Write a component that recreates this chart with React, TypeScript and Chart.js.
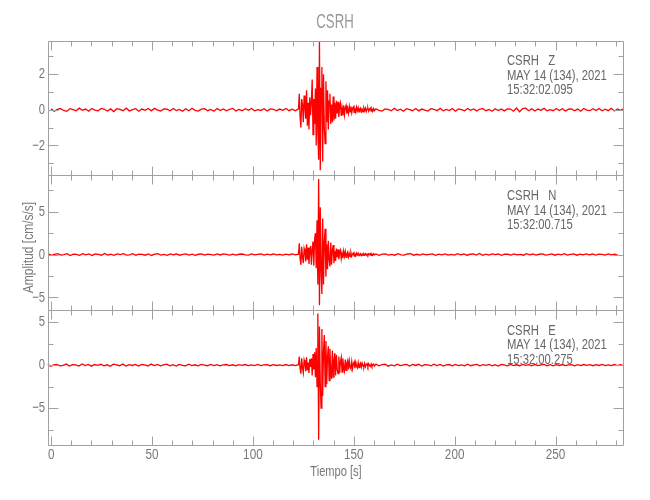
import React, { useEffect, useRef } from "react";
import { Chart, registerables } from "chart.js";

Chart.register(...registerables);

// ---- axis ranges / tick labels ----
const X_MIN = -1.8;
const X_MAX = 283.7;
const xMajorTicks = [0, 50, 100, 150, 200, 250];
const xMinorTicks = [10, 20, 30, 40, 60, 70, 80, 90, 110, 120, 130, 140, 160, 170, 180, 190, 210, 220, 230, 240, 260, 270, 280];

const zRange = [-3.68, 3.89];
const nRange = [-6.48, 9.22];
const eRange = [-9.3, 6.4];
const zMajor = [-2, 0, 2];
const zMinor = [-3, -1, 1, 3];
const nMajor = [-5, 0, 5];
const nMinor = [-2.5, 2.5, 7.5];
const eMajor = [-5, 0, 5];
const eMinor = [-7.5, -2.5, 2.5];

const zLabel = ["CSRH   Z", "MAY 14 (134), 2021", "15:32:02.095"];
const nLabel = ["CSRH   N", "MAY 14 (134), 2021", "15:32:00.715"];
const eLabel = ["CSRH   E", "MAY 14 (134), 2021", "15:32:00.275"];

// ---- trace timing (s) ----
const zStart = 0;
const nStart = -1.4;
const eStart = -1.8;
const preEnd = 122.6;
const eventStart = 123.0;
const eventEnd = 160.2;
const postStart = 161.0;
const zEnd = 283.7;
const nEnd = 280.8;
const eEnd = 283.7;

// ---- Z component (cm/s/s) ----
const zPre = [0.05,-0.08,0.02,0.07,-0.04,-0.09,0.06,0.01,-0.06,0.09,-0.03,0.04,-0.08,0.07,-0.02,-0.06,0.08,0.03,-0.07,0.05,-0.1,0.06,0.02,-0.05,0.09,-0.07,0.01,0.06,-0.08,0.04,-0.03,0.07,-0.06,0.08,-0.02,-0.07,0.05,0.03,-0.06,0.07,-0.04,0.02,-0.08,0.06,-0.05,0.09,-0.03,-0.07,0.04,0.06,-0.05,0.02,-0.08,0.07,-0.04,0.05,-0.06,0.03,0.08,-0.07,0.02,-0.05,0.06,-0.03,0.07,-0.06,0.01,-0.04,0.06,-0.07,0.05,0.02,-0.06,0.04,-0.03,0.07,-0.05,0.03,-0.06,0.05];
const zEvent = [
  0.9,-0.4,-1.0,0.6,0.3,
  -0.7,0.8,0.2,-0.5,1.1,-0.9,0.4,-1.1,0.7,-0.3,
  0.5,1.7,-1.4,0.6,-0.8,
  1.2,-2.0,2.4,-1.2,-2.8,
  3.8,-3.4,1.2,2.4,-2.9,2.0,-1.0,-1.9,1.6,-0.7,
  1.1,-1.1,0.5,0.9,-0.8,0.3,-0.7,0.75,-0.6,0.4,
  -0.5,0.5,-0.2,0.45,-0.4,0.2,0.38,-0.35,0.1,-0.32,
  0.25,-0.28,0.1,0.24,-0.22,0.05,-0.2,0.19,-0.12,0.2,
  -0.16,0.08,0.15,-0.14,0.04,-0.13,0.15,-0.05,0.12,-0.12,
  0.06,0.11,-0.1,0.03,-0.11,0.1,-0.04,0.09,-0.1,0.05,
  0.1,-0.08,0.02,0.09,-0.08,0.04,-0.09,0.07,-0.05,
];
const zPost = [0.06,-0.03,-0.07,0.05,0.02,-0.06,0.08,-0.04,0.03,-0.08,0.06,0.01,-0.05,0.07,-0.06,0.04,-0.02,-0.07,0.06,0.03,-0.05,0.08,-0.06,0.02,-0.04,0.07,-0.08,0.05,0.01,-0.06,0.07,-0.03,0.05,-0.07,0.04,0.06,-0.05,0.02,-0.08,0.06,-0.04,0.05,-0.06,0.05,0.04,-0.08,0.1,-0.11,0.07,0.09,-0.05,0.06,-0.07,0.04,-0.03,0.08,-0.06,0.01,-0.05,0.07,-0.04,0.06,-0.07,0.03,0.05,-0.06,0.04,-0.08,0.07,-0.02,-0.05,0.06,-0.04,0.07,-0.06,0.03,-0.05,0.08,-0.07,0.05,-0.03,0.06];

// ---- N component ----
const nPre = [0.08,-0.1,0.03,0.11,-0.07,-0.02,0.09,-0.12,0.05,0.02,-0.09,0.1,-0.04,0.07,-0.11,0.06,0.01,-0.08,0.12,-0.06,0.03,-0.1,0.08,-0.02,0.09,-0.07,-0.03,0.1,-0.09,0.05,0.02,-0.08,0.07,-0.11,0.04,0.09,-0.06,0.01,-0.09,0.08,-0.04,0.06,-0.08,0.02,0.07,-0.06,0.05,-0.09,0.03,0.08,-0.07,0.04,-0.02,-0.08,0.06,-0.05,0.07,0.02,-0.06,0.05,-0.07,0.03,0.06,-0.04,-0.06,0.07,-0.05,0.02,0.06,-0.07,0.04,-0.03,0.06,-0.05,0.02,-0.06,0.05,-0.04,0.06,-0.05,0.03];
const nEvent = [
  1.3,-0.5,-1.2,0.9,-0.3,
  -1.0,0.7,0.3,-0.8,1.2,-0.6,0.8,-1.1,0.4,1.0,
  -1.2,0.6,1.5,-1.3,1.8,
  2.5,-1.6,4.0,-3.5,8.8,
  -5.9,5.5,-2.0,-4.6,4.2,-3.5,1.5,3.0,-2.6,1.2,
  -1.7,1.6,-0.6,-1.4,1.4,-1.2,0.5,1.1,-1.0,0.4,
  -0.75,0.7,-0.3,0.6,-0.55,0.2,0.5,-0.48,0.15,-0.42,
  0.4,-0.2,0.35,-0.33,0.1,0.3,-0.28,0.1,-0.25,0.22,
  -0.2,0.06,0.18,-0.17,0.05,-0.16,0.15,-0.06,0.14,-0.13,
  0.04,0.12,-0.12,0.05,-0.11,0.1,-0.03,0.1,-0.1,0.06,
  -0.09,0.09,-0.03,0.1,-0.09,0.05,-0.08,0.09,-0.04,
];
const nPost = [0.07,-0.09,0.04,0.08,-0.06,0.02,-0.08,0.09,-0.03,-0.07,0.06,0.1,-0.08,0.03,-0.06,0.08,-0.05,0.02,0.07,-0.09,0.05,-0.03,0.08,-0.07,0.01,-0.06,0.09,-0.04,0.06,-0.08,0.03,0.07,-0.06,0.12,-0.1,0.04,-0.07,0.08,-0.02,0.06,-0.09,0.05,0.03,-0.07,0.08,-0.05,0.02,-0.08,0.09,-0.04,0.06,-0.07,0.03,0.08,-0.06,-0.02,0.07,-0.08,0.05,-0.04,0.09,-0.07,0.02,0.06,-0.08,0.04,-0.05,0.07,-0.03,0.06,-0.07,0.05,0.02,-0.06,0.08,-0.05,0.04,-0.06];

// ---- E component ----
const ePre = [0.1,-0.12,0.04,0.09,-0.08,-0.03,0.12,-0.1,0.06,0.02,-0.11,0.13,-0.05,0.08,-0.12,0.07,-0.02,0.1,-0.09,0.04,-0.13,0.11,0.03,-0.07,0.12,-0.1,0.05,-0.04,0.09,-0.11,0.07,0.02,-0.1,0.12,-0.06,0.08,-0.09,0.03,0.11,-0.08,0.05,-0.1,0.09,-0.02,-0.07,0.1,-0.06,0.04,-0.09,0.08,0.01,-0.07,0.09,-0.05,0.06,-0.08,0.03,0.07,-0.06,0.04,-0.08,0.06,-0.02,0.07,-0.06,0.03,-0.05,0.08,-0.06,0.02,0.05,-0.07,0.06,-0.04,0.03,-0.06,0.07,-0.05,0.04,-0.06,0.05];
const eEvent = [
  1.0,-0.4,-1.0,0.8,-0.3,
  -0.9,0.6,0.2,-0.7,0.9,-0.6,0.3,-0.9,0.7,-0.2,
  0.8,-1.2,1.3,-0.5,1.5,
  -1.4,2.0,-2.5,6.0,-8.7,
  4.5,-2.0,-5.0,4.2,-3.6,1.5,3.5,-2.5,2.8,-2.2,
  1.0,2.2,-1.8,1.9,-0.8,-1.6,1.7,-1.4,0.6,1.4,
  -1.2,1.2,-0.5,-1.0,1.0,-0.9,0.4,0.9,-0.8,0.8,
  -0.3,-0.7,0.65,-0.6,0.25,0.55,-0.5,0.5,-0.2,-0.45,
  0.42,-0.4,0.15,0.38,-0.36,0.35,-0.1,-0.32,0.3,-0.28,
  0.1,0.27,-0.24,0.22,-0.08,-0.21,0.2,-0.19,0.06,0.18,
  -0.17,0.16,-0.05,-0.15,0.14,-0.13,0.05,0.12,-0.12,
];
const ePost = [0.11,-0.09,0.05,0.1,-0.12,0.03,-0.08,0.11,-0.06,0.02,0.09,-0.1,0.07,-0.04,0.1,-0.11,0.06,0.02,-0.09,0.1,-0.05,0.08,-0.1,0.03,0.07,-0.08,0.09,-0.06,0.02,-0.09,0.1,-0.07,0.04,0.08,-0.09,0.05,-0.03,0.09,-0.08,0.06,-0.1,0.07,0.02,-0.08,0.09,-0.06,0.04,-0.07,0.08,-0.03,0.06,-0.09,0.07,-0.05,0.02,0.08,-0.07,0.05,-0.08,0.06,-0.04,0.07,-0.06,0.03,0.06,-0.08,0.05,-0.06,0.07,-0.03,0.05,-0.07,0.06,-0.04,0.08,-0.06,0.03,-0.05,0.07,-0.06,0.04,-0.05];

// evenly spaced sample times across a segment
function segment(start: number, end: number, vals: number[]) {
  const n = vals.length;
  const dt = n > 1 ? (end - start) / (n - 1) : 0;
  return vals.map((v, i) => ({ x: start + i * dt, y: v }));
}
function trace(start: number, pre: number[], ev: number[], post: number[], end: number) {
  return [
    ...segment(start, preEnd, pre),
    ...segment(eventStart, eventEnd, ev),
    ...segment(postStart, end, post),
  ];
}

const FONT = '"Liberation Sans", Arial, sans-serif';
const AXIS = "#a0a0a0";

function text(
  ctx: CanvasRenderingContext2D,
  s: string,
  x: number,
  y: number,
  size: number,
  color: string,
  align: "left" | "center" | "right",
  sx: number,
  rotate = 0
) {
  ctx.save();
  ctx.font = `${size}px ${FONT}`;
  ctx.fillStyle = color;
  ctx.textBaseline = "middle";
  ctx.textAlign = "left";
  const w = ctx.measureText(s).width * sx;
  ctx.translate(x, y);
  if (rotate) ctx.rotate(rotate);
  const x0 = align === "center" ? -w / 2 : align === "right" ? -w : 0;
  ctx.translate(x0, 0);
  ctx.scale(sx, 1);
  ctx.fillText(s, 0, 0);
  ctx.restore();
}

const panels = [
  { id: "yZ", major: zMajor, minor: zMinor, label: zLabel },
  { id: "yN", major: nMajor, minor: nMinor, label: nLabel },
  { id: "yE", major: eMajor, minor: eMinor, label: eLabel },
];

const framePlugin = {
  id: "seisFrame",
  afterDraw(chart: any) {
    const ctx: CanvasRenderingContext2D = chart.ctx;
    const area = chart.chartArea;
    const xs = chart.scales.x;
    const L = Math.round(area.left) + 0.5;
    const R = Math.round(area.right) - 0.5;
    ctx.save();
    ctx.strokeStyle = AXIS;
    ctx.lineWidth = 1;
    panels.forEach((p, pi) => {
      const ys = chart.scales[p.id];
      const T = Math.round(ys.top) + 0.5;
      const B = Math.round(ys.bottom) + 0.5;
      ctx.beginPath();
      ctx.rect(L, T, R - L, B - T);
      ctx.stroke();
      ctx.beginPath();
      const xt = (v: number, len: number) => {
        const px = Math.round(xs.getPixelForValue(v)) + 0.5;
        ctx.moveTo(px, T);
        ctx.lineTo(px, T + len);
        ctx.moveTo(px, B);
        ctx.lineTo(px, B - len);
      };
      xMajorTicks.forEach((v) => xt(v, 9));
      xMinorTicks.forEach((v) => xt(v, 5));
      const yt = (v: number, len: number) => {
        const py = Math.round(ys.getPixelForValue(v)) + 0.5;
        ctx.moveTo(L, py);
        ctx.lineTo(L + len, py);
        ctx.moveTo(R, py);
        ctx.lineTo(R - len, py);
      };
      p.major.forEach((v) => yt(v, 10));
      p.minor.forEach((v) => yt(v, 5));
      ctx.stroke();
      p.major.forEach((v) => {
        const py = ys.getPixelForValue(v);
        const s = v < 0 ? "\u2212" + Math.abs(v) : String(v);
        text(ctx, s, area.left - 2.5, py, 15, "#777", "right", 0.75);
      });
      p.label.forEach((s, i) => {
        text(ctx, s, 507, ys.top + 20.5 + i * 14.6, 15, "#666", "left", 0.75);
      });
      if (pi === panels.length - 1) {
        xMajorTicks.forEach((v) => {
          text(ctx, String(v), xs.getPixelForValue(v), ys.bottom + 10, 15, "#777", "center", 0.78);
        });
      }
    });
    ctx.restore();
    text(ctx, "CSRH", 335, 22.5, 20, "#999", "center", 0.66);
    text(ctx, "Tiempo [s]", 336, 472, 15, "#777", "center", 0.74);
    text(ctx, "Amplitud [cm/s/s]", 29, 247.5, 15, "#777", "center", 0.8, -Math.PI / 2);
  },
};

export default function App() {
  const ref = useRef<HTMLCanvasElement | null>(null);
  useEffect(() => {
    if (!ref.current) return;
    const mk = (data: { x: number; y: number }[], axis: string) => ({
      data,
      yAxisID: axis,
      borderColor: "rgb(255,0,0)",
      borderWidth: 1.3,
      pointRadius: 0,
      fill: false,
      tension: 0,
    });
    const chart = new Chart(ref.current, {
      type: "line",
      data: {
        datasets: [
          mk(trace(zStart, zPre, zEvent, zPost, zEnd), "yZ"),
          mk(trace(nStart, nPre, nEvent, nPost, nEnd), "yN"),
          mk(trace(eStart, ePre, eEvent, ePost, eEnd), "yE"),
        ],
      },
      options: {
        responsive: false,
        animation: false,
        events: [],
        layout: { padding: { left: 47.5, top: 40.5, right: 26.5, bottom: 55 } },
        plugins: { legend: { display: false }, tooltip: { enabled: false }, title: { display: false } },
        scales: {
          x: { type: "linear", min: X_MIN, max: X_MAX, display: false },
          yZ: { type: "linear", position: "left", stack: "p", stackWeight: 1, weight: 3, min: zRange[0], max: zRange[1], display: false },
          yN: { type: "linear", position: "left", stack: "p", stackWeight: 1, weight: 2, min: nRange[0], max: nRange[1], display: false },
          yE: { type: "linear", position: "left", stack: "p", stackWeight: 1, weight: 1, min: eRange[0], max: eRange[1], display: false },
        },
      } as any,
      plugins: [framePlugin],
    });
    return () => chart.destroy();
  }, []);
  return (
    <canvas
      ref={ref}
      width={650}
      height={500}
      style={{ position: "absolute", left: 0, top: 0, width: 650, height: 500 }}
    />
  );
}
